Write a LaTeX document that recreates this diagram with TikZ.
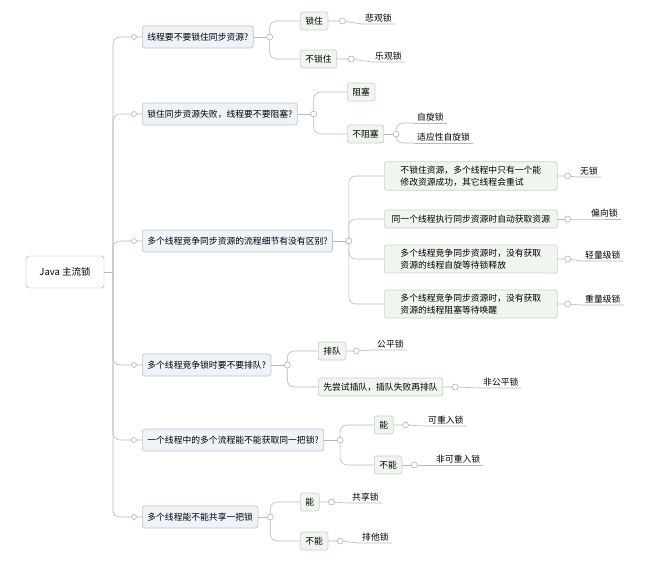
\documentclass[tikz,border=0pt]{standalone}
\usepackage{fontspec}
\setmainfont{Noto Sans CJK SC}
\definecolor{qfill}{HTML}{EEF3F8}
\definecolor{qdraw}{HTML}{B9C6D2}
\definecolor{afill}{HTML}{F1F5F0}
\definecolor{adraw}{HTML}{C8D5C6}
\begin{document}
\begin{tikzpicture}[x=1pt,y=-1pt,font=\fontsize{8.8}{12}\selectfont,
  ln/.style={draw=black!28,line width=0.6pt},
  conn/.style={ln,rounded corners=7pt},
  q/.style={draw=qdraw,fill=qfill,rounded corners=2.5pt,anchor=west,inner xsep=5pt,minimum height=22pt,line width=0.7pt},
  a/.style={draw=adraw,fill=afill,rounded corners=2.5pt,anchor=west,inner xsep=5pt,minimum height=18pt,align=left,line width=0.7pt},
  leaf/.style={anchor=south west,inner xsep=3pt,inner ysep=2pt},
  dot/.style={circle,draw=black!30,fill=white,inner sep=0pt,minimum size=6pt,line width=0.6pt}]
\useasboundingbox (0,0) rectangle (668,565);
\node[draw=black!35,fill=white,rounded corners=3pt,minimum width=78pt,minimum height=32pt,font=\fontsize{9.5}{11}\selectfont] (root) at (65,272) {Java 主流锁};
\coordinate (tr) at (113,272);
\draw[ln] (root.east) -- (tr);
% level 1
\node[q] (q1) at (142,37) {线程要不要锁住同步资源?};
\node[q] (q2) at (142,114) {锁住同步资源失败，线程要不要阻塞?};
\node[q] (q3) at (142,241) {多个线程竞争同步资源的流程细节有没有区别?};
\node[q] (q4) at (142,365) {多个线程竞争锁时要不要排队?};
\node[q] (q5) at (142,440) {一个线程中的多个流程能不能获取同一把锁?};
\node[q] (q6) at (142,517) {多个线程能不能共享一把锁};
\foreach \n in {1,...,6}{
  \draw[conn] (tr) |- (q\n.west);
  \node[dot,minimum size=5pt] at ([xshift=-8pt]q\n.west) {};
}
% q1
\coordinate (j1) at ([xshift=16pt]q1.east);
\draw[ln] (q1.east) -- (j1);
\node[a] (a11) at (300,21) {锁住};
\node[a] (a12) at (300,59) {不锁住};
\draw[conn] (j1) |- (a11.west); \draw[conn] (j1) |- (a12.west);
\node[dot] at (j1) {};
\node[leaf] (l11) at (362,24) {悲观锁};
\node[leaf] (l12) at (372,62) {乐观锁};
\node[dot] (d11) at ([xshift=14pt]a11.east) {};
\node[dot] (d12) at ([xshift=14pt]a12.east) {};
\draw[ln] (a11.east) -- (d11) -- (l11.south west) -- (l11.south east);
\draw[ln] (a12.east) -- (d12) -- (l12.south west) -- (l12.south east);
% q2
\coordinate (j2) at ([xshift=16pt]q2.east);
\draw[ln] (q2.east) -- (j2);
\node[a] (a21) at (347,92) {阻塞};
\node[a] (a22) at (347,134) {不阻塞};
\draw[conn] (j2) |- (a21.west); \draw[conn] (j2) |- (a22.west);
\node[dot] at (j2) {};
\coordinate (j22) at ([xshift=12pt]a22.east);
\draw[ln] (a22.east) -- (j22);
\node[leaf] (l21) at (414,123) {自旋锁};
\node[leaf] (l22) at (414,143) {适应性自旋锁};
\draw[conn] (j22) |- (l21.south west); \draw[ln] (l21.south west) -- (l21.south east);
\draw[conn] (j22) |- (l22.south west); \draw[ln] (l22.south west) -- (l22.south east);
\node[dot] at (j22) {};
% q3
\coordinate (j3) at ([xshift=16pt]q3.east);
\draw[ln] (q3.east) -- (j3);
\node[a,minimum width=173pt,inner ysep=4pt] (a31) at (384,176) {不锁住资源，多个线程中只有一个能\\修改资源成功，其它线程会重试};
\node[a,minimum width=173pt] (a32) at (384,219) {同一个线程执行同步资源时自动获取资源};
\node[a,minimum width=173pt,inner ysep=4pt] (a33) at (384,259) {多个线程竞争同步资源时，没有获取\\资源的线程自旋等待锁释放};
\node[a,minimum width=173pt,inner ysep=4pt] (a34) at (384,304) {多个线程竞争同步资源时，没有获取\\资源的线程阻塞等待唤醒};
\foreach \n in {1,...,4}{\draw[conn] (j3) |- (a3\n.west);}
\node[dot] at (j3) {};
\node[leaf] (l31) at (577,177) {无锁};
\node[leaf] (l32) at (588,219) {偏向锁};
\node[leaf] (l33) at (582,261) {轻量级锁};
\node[leaf] (l34) at (582,305) {重量级锁};
\foreach \n in {1,...,4}{
  \node[dot] (d3\n) at ([xshift=10pt]a3\n.east) {};
  \draw[ln] (a3\n.east) -- (d3\n) -- (l3\n.south west) -- (l3\n.south east);
}
% q4
\coordinate (j4) at ([xshift=16pt]q4.east);
\draw[ln] (q4.east) -- (j4);
\node[a] (a41) at (318,351) {排队};
\node[a] (a42) at (318,387) {先尝试插队，插队失败再排队};
\draw[conn] (j4) |- (a41.west); \draw[conn] (j4) |- (a42.west);
\node[dot] at (j4) {};
\node[leaf] (l41) at (374,350) {公平锁};
\node[leaf] (l42) at (480,388) {非公平锁};
\node[dot] (d41) at ([xshift=10pt]a41.east) {};
\node[dot] (d42) at ([xshift=12pt]a42.east) {};
\draw[ln] (a41.east) -- (d41) -- (l41.south west) -- (l41.south east);
\draw[ln] (a42.east) -- (d42) -- (l42.south west) -- (l42.south east);
% q5
\coordinate (j5) at ([xshift=16pt]q5.east);
\draw[ln] (q5.east) -- (j5);
\node[a] (a51) at (374,425) {能};
\node[a] (a52) at (374,465) {不能};
\draw[conn] (j5) |- (a51.west); \draw[conn] (j5) |- (a52.west);
\node[dot] at (j5) {};
\node[leaf] (l51) at (425,426) {可重入锁};
\node[leaf] (l52) at (433,465) {非可重入锁};
\node[dot] (d51) at ([xshift=12pt]a51.east) {};
\node[dot] (d52) at ([xshift=12pt]a52.east) {};
\draw[ln] (a51.east) -- (d51) -- (l51.south west) -- (l51.south east);
\draw[ln] (a52.east) -- (d52) -- (l52.south west) -- (l52.south east);
% q6
\coordinate (j6) at ([xshift=12pt]q6.east);
\draw[ln] (q6.east) -- (j6);
\node[a] (a61) at (300,502) {能};
\node[a] (a62) at (300,541) {不能};
\draw[conn] (j6) |- (a61.west); \draw[conn] (j6) |- (a62.west);
\node[dot] at (j6) {};
\node[leaf] (l61) at (349,503) {共享锁};
\node[leaf] (l62) at (359,543) {排他锁};
\node[dot] (d61) at ([xshift=12pt]a61.east) {};
\node[dot] (d62) at ([xshift=12pt]a62.east) {};
\draw[ln] (a61.east) -- (d61) -- (l61.south west) -- (l61.south east);
\draw[ln] (a62.east) -- (d62) -- (l62.south west) -- (l62.south east);
\end{tikzpicture}
\end{document}
